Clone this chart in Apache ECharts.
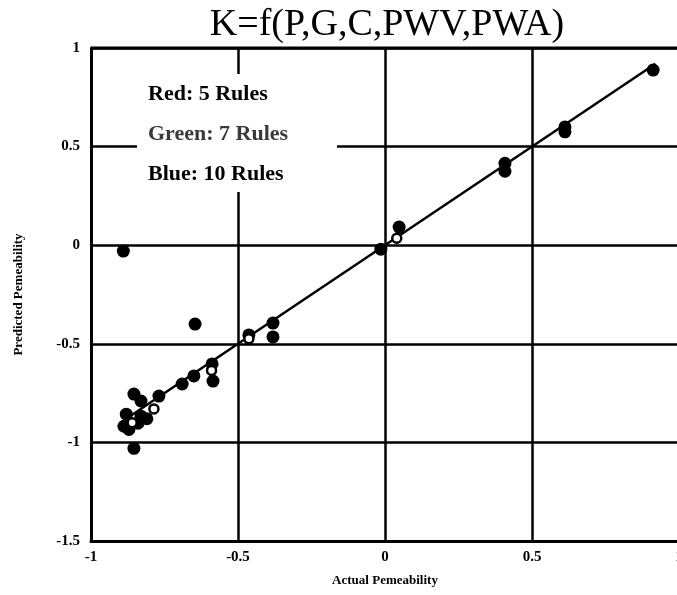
<!DOCTYPE html>
<html>
<head>
<meta charset="utf-8">
<script src="https://cdn.jsdelivr.net/npm/echarts@6/dist/echarts.min.js"></script>
<style>
  html, body { margin: 0; padding: 0; background: #fff; }
  #chart { width: 677px; height: 595px; }
</style>
</head>
<body>
<div id="chart"></div>
<script>
// Actual vs predicted permeability for the three rule sets
const xTicks = [-1, -0.5, 0, 0.5, 1];
const yTicks = [-1.5, -1, -0.5, 0, 0.5, 1];

const redActual    = [-0.89, -0.646, -0.463, -0.381, -0.381, -0.014, 0.048, 0.408, 0.612, 0.912, -0.588, -0.585, -0.854, -0.854, -0.888];
const redPredicted = [-0.03, -0.40, -0.455, -0.395, -0.465, -0.02, 0.092, 0.415, 0.60, 0.888, -0.602, -0.689, -0.755, -1.03, -0.918];

const greenActual    = [-0.786, -0.59, 0.04, -0.463, -0.86];
const greenPredicted = [-0.83, -0.635, 0.035, -0.475, -0.90];

const blueActual    = [-0.65, -0.69, -0.769, -0.83, -0.83, -0.88, -0.871, -0.84, 0.408, 0.612, -0.81];
const bluePredicted = [-0.663, -0.704, -0.765, -0.79, -0.867, -0.857, -0.934, -0.903, 0.375, 0.575, -0.88];

// Perfect-prediction reference line
const idealLine = [[-0.87, -0.87], [0.92, 0.92]];

const legendLines = ['Red: 5 Rules', 'Green: 7 Rules', 'Blue: 10 Rules'];

const pairs = (xs, ys) => xs.map((x, i) => [x, ys[i]]);

const serif = '"Liberation Serif", "DejaVu Serif", serif';
const chart = echarts.init(document.getElementById('chart'), null, { renderer: 'canvas' });

const grid = { left: 91, top: 48, width: 588, height: 493, outerBoundsMode: 'none', containLabel: false };

const keyText = (text, y, fill) => ({
  type: 'text', z: 7, x: 148, y: y,
  style: { text: text, fill: fill, font: 'bold 22px ' + serif, verticalAlign: 'middle', align: 'left' }
});

chart.setOption({
  animation: false,
  backgroundColor: '#fff',
  title: {
    text: 'K=f(P,G,C,PWV,PWA)',
    left: 382, top: 1, textAlign: 'center',
    textStyle: { fontFamily: serif, fontSize: 38, fontWeight: 'normal', color: '#000' }
  },
  grid: grid,
  xAxis: {
    type: 'value', min: xTicks[0], max: xTicks[xTicks.length - 1], interval: 0.5,
    name: 'Actual Pemeability', nameLocation: 'middle', nameGap: 33,
    nameTextStyle: { fontFamily: serif, fontSize: 13, fontWeight: 'bold', color: '#000' },
    axisLine: { show: true, onZero: false, lineStyle: { color: '#000', width: 3 } },
    axisTick: { show: false },
    splitLine: { show: true, lineStyle: { color: '#000', width: 2.5 } },
    axisLabel: { fontFamily: serif, fontSize: 15, fontWeight: 'bold', color: '#000', margin: 9,
                 formatter: v => String(v) }
  },
  yAxis: {
    type: 'value', min: yTicks[0], max: yTicks[yTicks.length - 1], interval: 0.5,
    name: 'Predicted Pemeability', nameLocation: 'middle', nameGap: 66, nameRotate: 90,
    nameTextStyle: { fontFamily: serif, fontSize: 13, fontWeight: 'bold', color: '#000' },
    axisLine: { show: true, onZero: false, lineStyle: { color: '#000', width: 3 } },
    axisTick: { show: false },
    splitLine: { show: true, lineStyle: { color: '#000', width: 2.5 } },
    axisLabel: { fontFamily: serif, fontSize: 15, fontWeight: 'bold', color: '#000', margin: 11,
                 formatter: v => String(v) }
  },
  graphic: [
    // top and right frame lines of the plot area
    { type: 'line', z: 5, shape: { x1: grid.left, y1: grid.top, x2: grid.left + grid.width, y2: grid.top },
      style: { stroke: '#000', lineWidth: 3 } },
    { type: 'line', z: 5, shape: { x1: grid.left + grid.width, y1: grid.top, x2: grid.left + grid.width, y2: grid.top + grid.height },
      style: { stroke: '#000', lineWidth: 3 } },
    // rule-set key, on a white panel over the grid
    { type: 'rect', z: 6, shape: { x: 137, y: 74, width: 200, height: 118 }, style: { fill: '#fff' } },
    keyText(legendLines[0], 94, '#000'),
    keyText(legendLines[1], 134, '#3a3a3a'),
    keyText(legendLines[2], 174, '#000')
  ],
  series: [
    { name: 'ideal', type: 'line', data: idealLine, symbol: 'none', z: 3,
      lineStyle: { color: '#000', width: 2.5 } },
    { name: legendLines[0], type: 'scatter', data: pairs(redActual, redPredicted), z: 4,
      symbolSize: 13, itemStyle: { color: '#000', opacity: 1 } },
    { name: legendLines[2], type: 'scatter', data: pairs(blueActual, bluePredicted), z: 4,
      symbolSize: 13, itemStyle: { color: '#000', opacity: 1 } },
    { name: legendLines[1], type: 'scatter', data: pairs(greenActual, greenPredicted), z: 5,
      symbolSize: 9, itemStyle: { color: '#fff', borderColor: '#000', borderWidth: 2.5, opacity: 1 } }
  ]
});
</script>
</body>
</html>
